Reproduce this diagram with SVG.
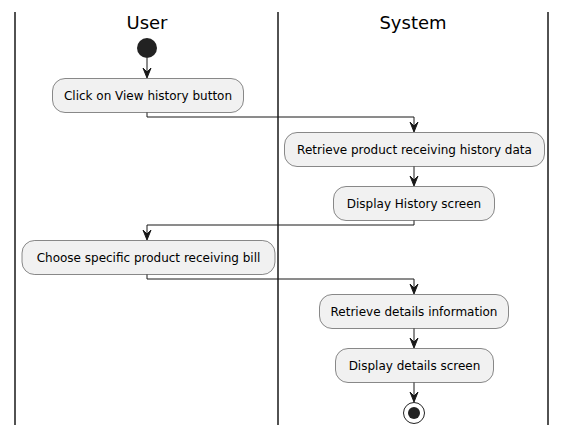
<svg xmlns="http://www.w3.org/2000/svg" width="567" height="435" viewBox="0 0 567 435">
<defs>
<style>
.lane{stroke:#181818;stroke-width:1.5;fill:none}
.title{font-family:"DejaVu Sans",sans-serif;font-size:18px;fill:#000;text-anchor:middle}
.node rect{fill:#F1F1F1;stroke:#181818;stroke-width:0.5}
.node text{font-family:"DejaVu Sans",sans-serif;font-size:12px;fill:#000;text-anchor:middle}
.edge{stroke:#181818;stroke-width:1;fill:none}
.ah{fill:#181818;stroke:#181818;stroke-width:1}
</style>
</defs>
<rect width="567" height="435" fill="#FFFFFF"/>
<g id="lanes">
<line class="lane" x1="15" y1="12" x2="15" y2="425"/>
<line class="lane" x1="278" y1="12" x2="278" y2="425"/>
<line class="lane" x1="548" y1="12" x2="548" y2="425"/>
<text class="title" x="147" y="29">User</text>
<text class="title" x="413" y="29">System</text>
</g>
<g id="start"><circle cx="147" cy="48" r="10" fill="#222222"/></g>
<g id="n1" class="node"><rect x="52.5" y="78.5" width="191" height="34" rx="12.5"/><text x="148" y="100">Click on View history button</text></g>
<g id="n2" class="node"><rect x="284.5" y="132.5" width="260" height="34" rx="12.5"/><text x="414.5" y="154">Retrieve product receiving history data</text></g>
<g id="n3" class="node"><rect x="333.5" y="186.5" width="161" height="34" rx="12.5"/><text x="414" y="208">Display History screen</text></g>
<g id="n4" class="node"><rect x="22" y="240.5" width="253" height="34" rx="12.5"/><text x="148.5" y="262">Choose specific product receiving bill</text></g>
<g id="n5" class="node"><rect x="319.5" y="294.5" width="189" height="34" rx="12.5"/><text x="414" y="316">Retrieve details information</text></g>
<g id="n6" class="node"><rect x="335.5" y="348.5" width="158" height="34" rx="12.5"/><text x="414.5" y="370">Display details screen</text></g>
<g id="end"><circle cx="414" cy="413" r="10.5" fill="none" stroke="#222222" stroke-width="1"/><circle cx="414" cy="413" r="6" fill="#222222"/></g>
<g id="connectors">
<polyline class="edge" points="147,58 147,77"/>
<polygon class="ah" points="143,68 147,78 151,68 147,72"/>
<polyline class="edge" points="147,112.5 147,117 414,117 414,131"/>
<polygon class="ah" points="410,122 414,132 418,122 414,126"/>
<polyline class="edge" points="414,166.5 414,185"/>
<polygon class="ah" points="410,176 414,186 418,176 414,180"/>
<polyline class="edge" points="414,220.5 414,225 147,225 147,239"/>
<polygon class="ah" points="143,230 147,240 151,230 147,234"/>
<polyline class="edge" points="147,274.5 147,279 414,279 414,293"/>
<polygon class="ah" points="410,284 414,294 418,284 414,288"/>
<polyline class="edge" points="414,328.5 414,347"/>
<polygon class="ah" points="410,338 414,348 418,338 414,342"/>
<polyline class="edge" points="414,382.5 414,401"/>
<polygon class="ah" points="410,392 414,402 418,392 414,396"/>
</g>
</svg>
